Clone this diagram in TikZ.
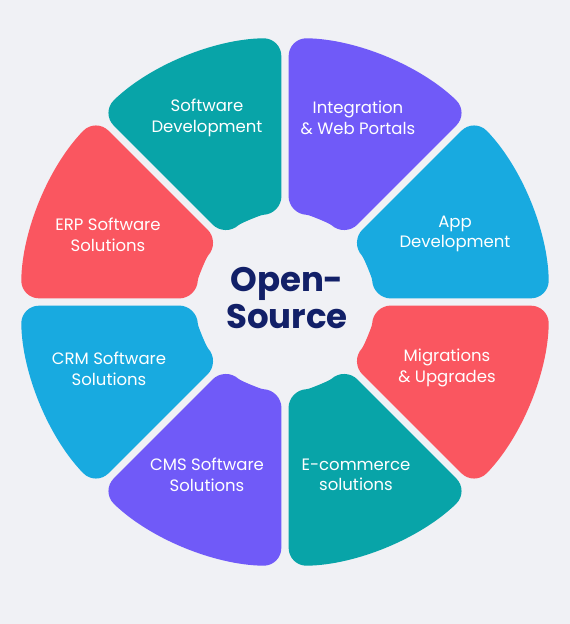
\documentclass[tikz,border=0pt]{standalone}
\usepackage{fontspec}
\setmainfont{Poppins}
\usepackage{tikz}
\definecolor{bgring}{RGB}{240,241,245}
\definecolor{tealseg}{RGB}{8,164,168}
\definecolor{purpleseg}{RGB}{112,90,248}
\definecolor{blueseg}{RGB}{24,170,224}
\definecolor{redseg}{RGB}{250,86,96}
\definecolor{navytitle}{RGB}{18,32,104}

\begin{document}
\begin{tikzpicture}[x=1pt,y=1pt,
  seg/.style={rounded corners=18pt},
  seglabel/.style={text=white,align=center,font=\fontsize{16.5}{20.5}\selectfont},
  title/.style={text=navytitle,align=center,font=\fontsize{34}{37}\selectfont\bfseries}]
			\useasboundingbox[fill=bgring] (-285,-322) rectangle (285,302);
			% ring of eight sectors, outer radius 264pt, inner 88pt
			\fill[seg,tealseg] (90.8:264pt) arc[start angle=90.8,end angle=134.2,radius=264pt] -- (132.7:88pt) arc[start angle=132.7,end angle=92.3,radius=88pt] -- cycle;
			\fill[seg,purpleseg] (45.8:264pt) arc[start angle=45.8,end angle=89.2,radius=264pt] -- (87.7:88pt) arc[start angle=87.7,end angle=47.3,radius=88pt] -- cycle;
			\fill[seg,blueseg] (0.8:264pt) arc[start angle=0.8,end angle=44.2,radius=264pt] -- (42.7:88pt) arc[start angle=42.7,end angle=2.3,radius=88pt] -- cycle;
			\fill[seg,redseg] (-44.2:264pt) arc[start angle=-44.2,end angle=-0.8,radius=264pt] -- (-2.3:88pt) arc[start angle=-2.3,end angle=-42.7,radius=88pt] -- cycle;
			\fill[seg,tealseg] (-89.2:264pt) arc[start angle=-89.2,end angle=-45.8,radius=264pt] -- (-47.3:88pt) arc[start angle=-47.3,end angle=-87.7,radius=88pt] -- cycle;
			\fill[seg,purpleseg] (-134.2:264pt) arc[start angle=-134.2,end angle=-90.8,radius=264pt] -- (-92.3:88pt) arc[start angle=-92.3,end angle=-132.7,radius=88pt] -- cycle;
			\fill[seg,blueseg] (180.8:264pt) arc[start angle=180.8,end angle=224.2,radius=264pt] -- (222.7:88pt) arc[start angle=222.7,end angle=182.3,radius=88pt] -- cycle;
			\fill[seg,redseg] (135.8:264pt) arc[start angle=135.8,end angle=179.2,radius=264pt] -- (177.7:88pt) arc[start angle=177.7,end angle=137.3,radius=88pt] -- cycle;
			% labels
			\node[seglabel] (swdev) at (-78,184) {Software\\Development};
			\node[seglabel] (integ) at (73,184) {Integration\\\& Web Portals};
			\node[seglabel] (appdev) at (170,68) {App\\Development};
			\node[seglabel] (migr) at (162,-66) {Migrations\\\& Upgrades};
			\node[seglabel] (ecom) at (71,-173) {E-commerce\\solutions};
			\node[seglabel] (cms) at (-78,-173) {CMS Software\\Solutions};
			\node[seglabel] (crm) at (-176,-67) {CRM Software\\Solutions};
			\node[seglabel] (erp) at (-177,67) {ERP Software\\Solutions};
			\node[title] (opensrc) at (2,4) {Open-\\Source};
		\end{tikzpicture}
\end{document}
